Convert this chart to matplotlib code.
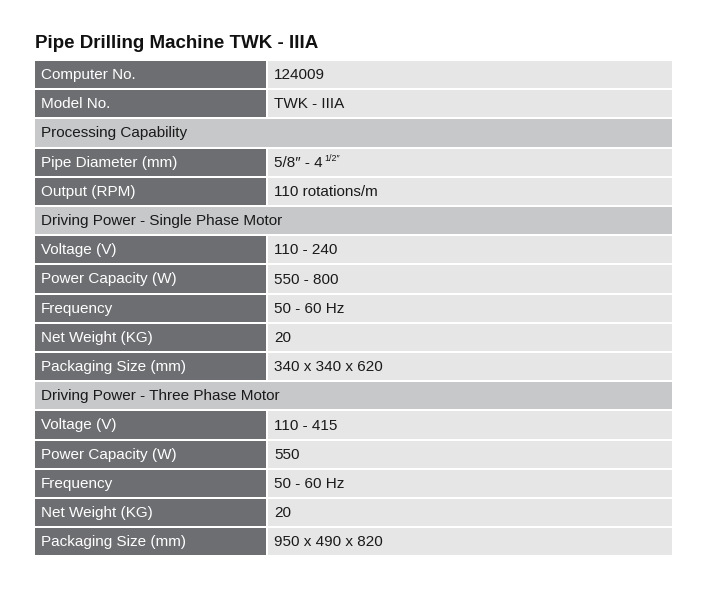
import matplotlib
matplotlib.use("Agg")
import matplotlib.pyplot as plt
from matplotlib.patches import Rectangle

plt.rcParams['font.family'] = ['Liberation Sans', 'DejaVu Sans']

title = "Pipe Drilling Machine TWK - IIIA"
labels = ["Computer No.", "Model No.", "Processing Capability", "Pipe Diameter (mm)", "Output (RPM)",
          "Driving Power - Single Phase Motor", "Voltage (V)", "Power Capacity (W)", "Frequency",
          "Net Weight (KG)", "Packaging Size (mm)", "Driving Power - Three Phase Motor",
          "Voltage (V)", "Power Capacity (W)", "Frequency", "Net Weight (KG)", "Packaging Size (mm)"]
values = ["124009", "TWK - IIIA", None, "5/8\u2033 - 4", "110 rotations/m", None, "110 - 240",
          "550 - 800", "50 - 60 Hz", "20", "340 x 340 x 620", None, "110 - 415", "550",
          "50 - 60 Hz", "20", "950 x 490 x 820"]

W, H = 709, 591
fig = plt.figure(figsize=(W/100, H/100), dpi=100)
ax = fig.add_axes([0, 0, 1, 1])
ax.set_xlim(0, W); ax.set_ylim(H, 0); ax.axis('off')

ax.text(35, 43, title, fontsize=13.5, fontweight='bold', va='center', ha='left', color='#111111')

x0, x1, x2, x3 = 35, 266, 268, 672
top, pitch, gap = 61, 29.2, 2
dark, light, sect = '#6d6e71', '#e6e6e6', '#c7c8ca'
fig.canvas.draw()
r = fig.canvas.get_renderer()
for i, (lab, val) in enumerate(zip(labels, values)):
    y = top + i*pitch
    h = pitch - gap
    cy = y + h/2 + 0.5
    if val is None:
        ax.add_patch(Rectangle((x0, y), x3-x0, h, color=sect, lw=0))
        ax.text(x0+6, cy, lab, fontsize=11, va='center', color='#1a1a1a')
    else:
        ax.add_patch(Rectangle((x0, y), x1-x0, h, color=dark, lw=0))
        ax.add_patch(Rectangle((x2, y), x3-x2, h, color=light, lw=0))
        ax.text(x0+6, cy, lab, fontsize=11, va='center', color='white')
        t = ax.text(x2+6, cy, val, fontsize=11, va='center', color='#1a1a1a')
        if i == 3:
            bb = t.get_window_extent(r)
            ax.text(x2+6+bb.width+2, cy-4, "1/2\u2033", fontsize=6.5, va='center', color='#1a1a1a')

fig.savefig("out.png", dpi=100)
